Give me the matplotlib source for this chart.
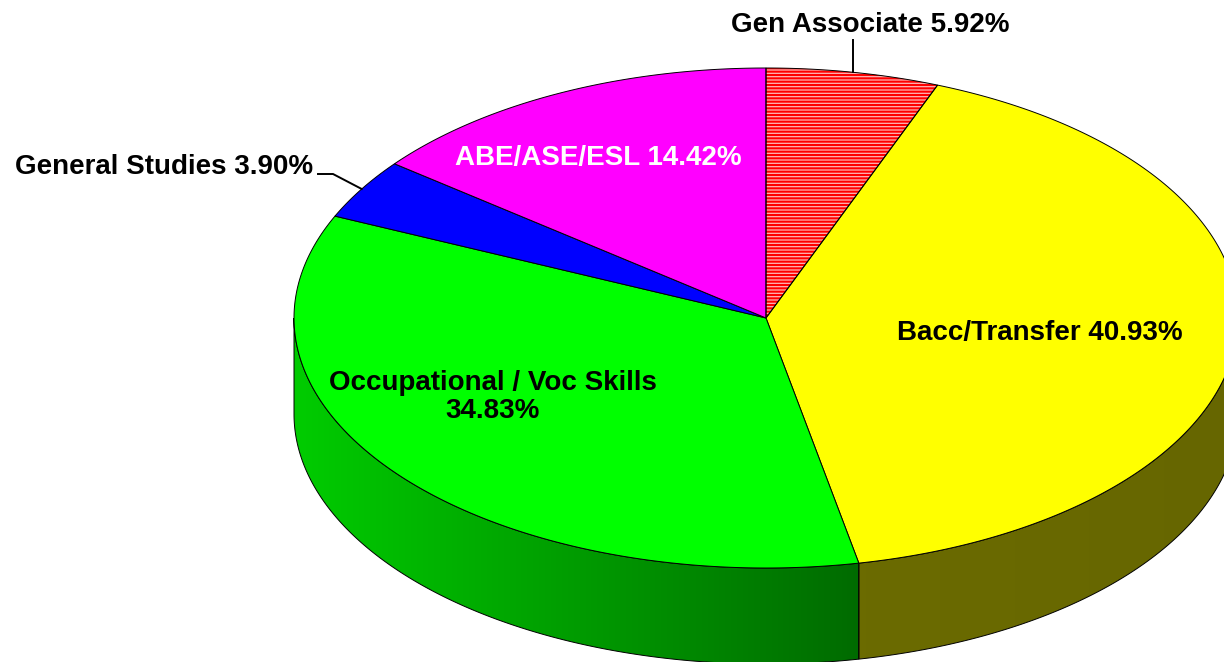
import numpy as np
import matplotlib
matplotlib.use("Agg")
import matplotlib.pyplot as plt
from matplotlib.patches import Polygon

# data
labels = ["Gen Associate", "Bacc/Transfer", "Occupational / Voc Skills",
          "General Studies", "ABE/ASE/ESL"]
shares = [5.92, 40.93, 34.83, 3.90, 14.42]
top_colors = ["#ffb4b4", "#ffff00", "#00ff00", "#0000ff", "#ff00ff"]

# geometry of the "3d" pie, in pixels
W, H = 1224, 662
cx, cy, rx, ry, depth = 766, 318, 472, 250, 96

plt.rcParams["font.family"] = ["Liberation Sans", "DejaVu Sans"]
plt.rcParams["hatch.color"] = "#ff0000"
plt.rcParams["hatch.linewidth"] = 1.5

fig = plt.figure(figsize=(W / 100, H / 100), dpi=100)
ax = fig.add_axes([0, 0, 1, 1])
ax.set_xlim(0, W)
ax.set_ylim(H, 0)
ax.axis("off")


def arc(a1, a2, n=200, dy=0.0):
    t = np.radians(np.linspace(a1, a2, n))
    return np.column_stack([cx + rx * np.cos(t), cy - ry * np.sin(t) + dy])


def shade(x):
    # side walls get darker to the right
    return np.interp(x, [294, 858, 1238], [0.80, 0.42, 0.40])


# slice angles, starting at 12 o'clock, clockwise
fracs = np.array(shares) / sum(shares)
ends = 90 - 360 * np.cumsum(fracs)
starts = np.concatenate([[90], ends[:-1]])

# side walls (only the front half is visible)
xs = np.arange(W)
for a1, a2, col in zip(starts, ends, top_colors):
    for k in (-360, 0, 360):
        lo = max(a2, -180 + k)
        hi = min(a1, 0 + k)
        if lo >= hi:
            continue
        top = arc(lo, hi)
        bot = arc(hi, lo, dy=depth)
        poly = Polygon(np.vstack([top, bot]), closed=True, facecolor="none",
                       edgecolor="black", linewidth=0.7, zorder=2)
        ax.add_patch(poly)
        rgb = np.array(matplotlib.colors.to_rgb(col))
        img = shade(xs)[None, :, None] * rgb[None, None, :]
        img = np.repeat(img, 2, axis=0)
        im = ax.imshow(img, extent=(0, W, H, 0), aspect="auto",
                       interpolation="nearest", zorder=1)
        im.set_clip_path(poly)

# top faces
for i, (a1, a2, col) in enumerate(zip(starts, ends, top_colors)):
    pts = np.vstack([[cx, cy], arc(a1, a2)])
    if i == 0:
        ax.add_patch(Polygon(pts, closed=True, facecolor=col,
                             edgecolor="#ff0000", hatch="-----",
                             linewidth=0, zorder=3))
        ax.add_patch(Polygon(pts, closed=True, facecolor="none",
                             edgecolor="black", linewidth=0.7, zorder=4))
    else:
        ax.add_patch(Polygon(pts, closed=True, facecolor=col,
                             edgecolor="black", linewidth=0.7, zorder=3))

mids = np.radians((starts + ends) / 2)
mid_x = cx + rx * np.cos(mids)
mid_y = cy - ry * np.sin(mids)

font = dict(fontsize=20, fontweight="bold", zorder=6)

# Gen Associate: label above with vertical leader
ax.plot([mid_x[0], mid_x[0]], [mid_y[0], 40], color="black", lw=1.4, zorder=5)
ax.text(870, 25, f"{labels[0]} {shares[0]:.2f}%", ha="center", va="center",
        **font)

# General Studies: label on the left with bent leader
ax.plot([mid_x[3], 333, 318], [mid_y[3], 174, 174], color="black", lw=1.4,
        zorder=5)
ax.text(313, 167, f"{labels[3]} {shares[3]:.2f}%", ha="right", va="center",
        **font)

ax.text(598, 158, f"{labels[4]} {shares[4]:.2f}%", ha="center", va="center",
        color="white", **font)
ax.text(1040, 333, f"{labels[1]} {shares[1]:.2f}%", ha="center", va="center",
        **font)
ax.text(493, 397, f"{labels[2]}\n{shares[2]:.2f}%", ha="center", va="center",
        linespacing=1.05, **font)

fig.savefig("out.png", dpi=100)
